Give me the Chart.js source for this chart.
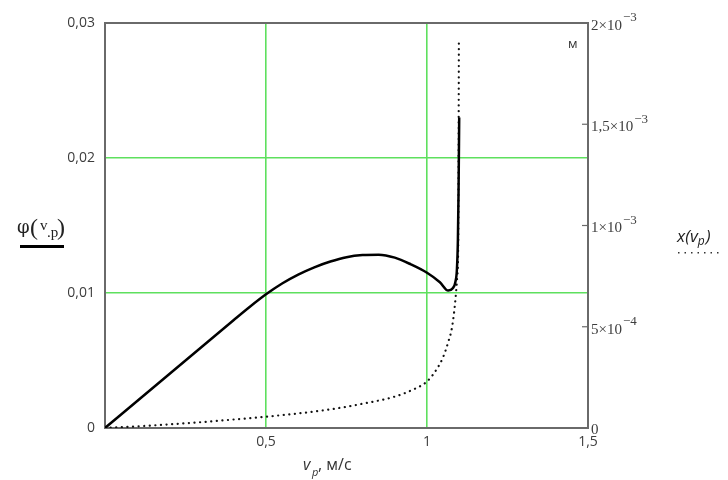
<!DOCTYPE html>
<html><head><meta charset="utf-8">
<script src="https://cdn.jsdelivr.net/npm/chart.js@4/dist/chart.umd.min.js"></script>
<style>html,body{margin:0;padding:0;background:#fff}#wrap{width:728px;height:480px}</style>
</head><body><div id="wrap"><canvas id="c" width="728" height="480"></canvas></div>
<script>
// φ(v_p) solid curve (left axis)
const vpPhi = [0,0.1,0.2,0.3,0.4,0.45,0.5,0.55,0.6,0.65,0.7,0.75,0.8,0.85,0.9,0.95,1.0,1.04,1.066,1.08,1.088,1.093,1.096,1.098,1.1];
const phiVals = [0,0.0020,0.0040,0.0060,0.0080,0.00898,0.0099,0.0107,0.01136,0.0119,0.01233,0.01265,0.01281,0.01284,0.01262,0.01212,0.0115,0.0108,0.01018,0.01035,0.0108,0.0118,0.0140,0.0175,0.0230];
// x(v_p) dotted curve (right axis, м)
const vpX = [0,0.1,0.2,0.3,0.4,0.5,0.6,0.7,0.8,0.9,0.95,1.0,1.03,1.05,1.065,1.078,1.088,1.094,1.097,1.098,1.099];
const xVals = [0,0.000008,0.000018,0.000029,0.000042,0.000056,0.000072,0.000092,0.000120,0.000155,0.000185,0.00023,0.00029,0.00035,0.00042,0.00050,0.00063,0.00075,0.00090,0.0013,0.00192];
// tick labels
const xTickLabels = {0.5:'0,5', 1:'1', 1.5:'1,5'};
const yTickLabels = {0:'0', 0.01:'0,01', 0.02:'0,02', 0.03:'0,03'};
const y2TickValues = [0, 0.0005, 0.001, 0.0015, 0.002];
const y2TickBase = ['0', '5×10', '1×10', '1,5×10', '2×10'];
const y2TickExp = ['', '−4', '−3', '−3', '−3'];

const GREEN = '#5ee05e';
const FRAME = '#6a6a6a';
const TICKFONT = {family:'Open Sans', size:14};
const LABELCOL = '#3d3d3d';

function lbl(map, v){ for (const k in map){ if (Math.abs(+k - v) < 1e-9) return map[k]; } return ''; }

const decor = {
  id:'decor',
  beforeDatasetsDraw(chart){
    const {ctx, chartArea:a} = chart;
    ctx.save();
    ctx.strokeStyle = FRAME; ctx.lineWidth = 2;
    ctx.strokeRect(a.left, a.top, a.right-a.left, a.bottom-a.top);
    const y2 = chart.scales.y2;
    ctx.lineWidth = 1.2;
    [0.0005,0.001,0.0015].forEach(v=>{
      const p = y2.getPixelForValue(v);
      ctx.beginPath(); ctx.moveTo(a.right-6,p); ctx.lineTo(a.right,p); ctx.stroke();
    });
    ctx.restore();
  },
  afterDraw(chart){
    const {ctx, chartArea:a} = chart;
    const y2 = chart.scales.y2;
    ctx.save();
    // right axis tick labels with superscript exponents
    ctx.fillStyle = LABELCOL;
    ctx.textBaseline = 'middle';
    y2TickValues.forEach((v,i)=>{
      const p = y2.getPixelForValue(v) + (i===0 ? 2 : 3);
      ctx.font = '15px "Liberation Serif"';
      const x0 = a.right + 3;
      ctx.fillText(y2TickBase[i], x0, p);
      const w = ctx.measureText(y2TickBase[i]).width;
      if (y2TickExp[i]) { ctx.font = '13px "Liberation Serif"'; ctx.fillText(y2TickExp[i], x0 + w + 1, p - 8); }
    });
    ctx.textBaseline = 'alphabetic';
    ctx.fillStyle = '#222';
    // left legend φ(v.p)
    ctx.font = '18px "DejaVu Serif"';
    ctx.fillText('φ', 17, 233);
    ctx.font = '24px "Liberation Serif"';
    ctx.fillText('(', 30, 235);
    ctx.font = '15px "Liberation Serif"';
    ctx.fillText('v', 40, 230);
    ctx.fillText('.p', 47, 237);
    ctx.font = '24px "Liberation Serif"';
    ctx.fillText(')', 57, 235);
    ctx.fillStyle = '#000';
    ctx.fillRect(20, 245, 44, 3);
    // right legend x(vp)
    ctx.fillStyle = '#222';
    ctx.font = 'italic 17px "Open Sans"';
    ctx.fillText('x(v', 677, 242);
    const wx = ctx.measureText('x(v').width;
    ctx.font = 'italic 12px "Open Sans"';
    ctx.fillText('p', 677 + wx, 245);
    const wp = ctx.measureText('p').width;
    ctx.font = 'italic 17px "Open Sans"';
    ctx.fillText(')', 677 + wx + wp + 1, 242);
    ctx.fillStyle = '#333';
    for (let x = 678; x <= 717; x += 6.5){ ctx.fillRect(x, 252, 1.5, 1.5); }
    // unit м
    ctx.font = '13px "Open Sans"';
    ctx.fillText('м', 568, 48);
    // x axis title
    ctx.font = 'italic 16px "Open Sans"';
    ctx.fillText('v', 303, 470);
    ctx.font = 'italic 11px "Open Sans"';
    ctx.fillText('p', 312, 476);
    ctx.font = '16px "Open Sans"';
    ctx.fillText(', м/с', 318, 470);
    ctx.restore();
  }
};

new Chart(document.getElementById('c'), {
  type:'line',
  data:{datasets:[
    {data: vpPhi.map((v,i)=>({x:v, y:phiVals[i]})), yAxisID:'y', borderColor:'#000', borderWidth:2.5, pointRadius:0, cubicInterpolationMode:'monotone', fill:false},
    {data: vpX.map((v,i)=>({x:v, y:xVals[i]})), yAxisID:'y2', borderColor:'#111', borderWidth:2.2, borderDash:[0.1,5.5], borderCapStyle:'round', pointRadius:0, cubicInterpolationMode:'monotone', fill:false}
  ]},
  options:{
    responsive:false, animation:false, devicePixelRatio:1,
    layout:{padding:{top:23, left:0, right:0, bottom:0}},
    plugins:{legend:{display:false}, tooltip:{enabled:false}},
    scales:{
      x:{type:'linear', min:0, max:1.5,
        afterBuildTicks(s){ s.ticks = [0,0.5,1,1.5].map(v=>({value:v})); },
        afterFit(s){ s.height = 52; },
        border:{display:false},
        grid:{drawTicks:false, lineWidth:1.6, color:c=> (c.tick && (c.tick.value===0.5||c.tick.value===1)) ? GREEN : 'rgba(0,0,0,0)'},
        ticks:{padding:6, color:LABELCOL, font:TICKFONT, maxRotation:0, callback:v=>lbl(xTickLabels,v)}},
      y:{type:'linear', position:'left', min:0, max:0.03,
        afterBuildTicks(s){ s.ticks = [0,0.01,0.02,0.03].map(v=>({value:v})); },
        afterFit(s){ s.width = 105; },
        border:{display:false},
        grid:{drawTicks:false, lineWidth:1.6, color:c=> (c.tick && c.tick.value>0.005 && c.tick.value<0.025) ? GREEN : 'rgba(0,0,0,0)'},
        ticks:{padding:10, color:LABELCOL, font:TICKFONT, callback:v=>lbl(yTickLabels,v)}},
      y2:{type:'linear', position:'right', min:0, max:0.002,
        afterBuildTicks(s){ s.ticks = y2TickValues.map(v=>({value:v})); },
        afterFit(s){ s.width = 140; },
        border:{display:false},
        grid:{drawOnChartArea:false, drawTicks:false},
        ticks:{display:true, color:'rgba(0,0,0,0)', font:TICKFONT, callback:()=>''}}
    }
  },
  plugins:[decor]
});
</script>
</body></html>
